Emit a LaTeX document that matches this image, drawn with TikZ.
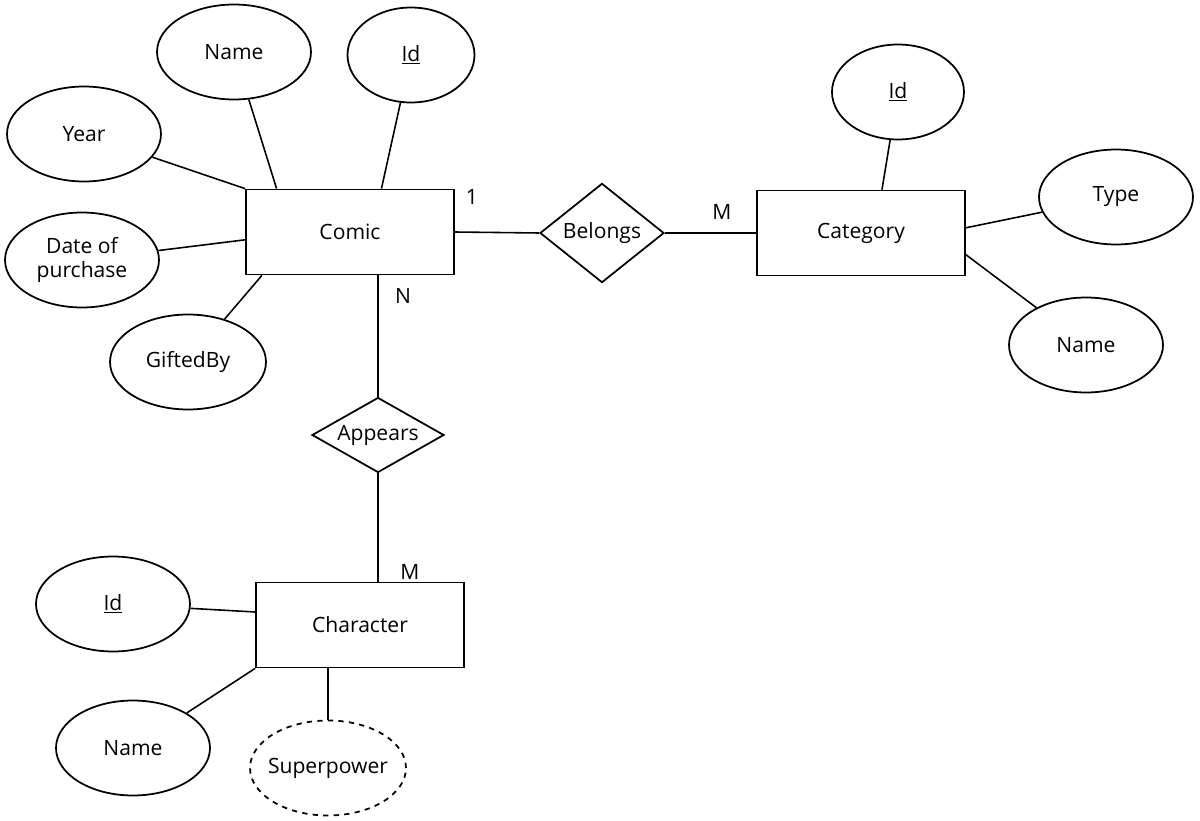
\documentclass[tikz,border=0pt]{standalone}
\usepackage{fontspec}
\setmainfont{Open Sans}
\usetikzlibrary{calc,shapes.geometric}

\begin{document}
\begin{tikzpicture}[
  x=0.02cm,y=-0.02cm,
  font=\fontsize{12}{14}\selectfont,
  entity/.style={draw,line width=1pt,minimum width=4.16cm,minimum height=1.7cm},
  relation/.style={draw,diamond,line width=1pt,inner sep=0pt},
  attr/.style={draw,ellipse,line width=1pt,minimum width=3.08cm,minimum height=1.9cm,align=center},
  link/.style={line width=0.9pt},
  card/.style={inner sep=1pt}
]
\useasboundingbox (0,0) rectangle (1200,821);
% entities and relations
\node[entity] (comic) at (350,232) {Comic};
\node[entity] (category) at (861,233) {Category};
\node[entity] (character) at (360,625) {Character};
\node[relation,minimum width=2.48cm,minimum height=1.98cm] (belongs) at (602,233) {Belongs};
\node[relation,aspect=1.76,minimum width=2.64cm,minimum height=1.5cm] (appears) at (378,435) {Appears};
% attributes of Comic
\node[attr] (name) at (234,52) {Name};
\node[attr,minimum width=2.54cm] (id) at (411,55) {\underline{Id}};
\node[attr] (year) at (84,134) {Year};
\node[attr] (date) at (82,260) {Date of\\purchase};
\node[attr,minimum width=3.12cm] (gifted) at (188,362) {GiftedBy};
% attributes of Category
\node[attr,minimum width=2.64cm] (catid) at (898,92) {\underline{Id}};
\node[attr] (type) at (1116,197) {Type};
\node[attr] (catname) at (1086,345) {Name};
% attributes of Character
\node[attr] (charid) at (113,604) {\underline{Id}};
\node[attr] (charname) at (133,748) {Name};
\node[attr,dashed,inner xsep=-3pt,minimum width=3.12cm] (power) at (328,768) {Superpower};
% cardinalities
\node[card] (c1) at (472,197) {1};
\node[card] (c2) at (722,212) {M};
\node[card] (c3) at (403,296) {N};
\node[card] (c4) at (410,572) {M};

\draw[link] (year) -- (comic.north west);
\draw[link] (name) -- ($(comic.north west)!0.15!(comic.north east)$);
\draw[link] (id) -- ($(comic.north west)!0.65!(comic.north east)$);
\draw[link] (date) -- ($(comic.north west)!0.59!(comic.south west)$);
\draw[link] (gifted) -- ($(comic.south west)!0.08!(comic.south east)$);
\draw[link] (comic.east) -- (belongs.west);
\draw[link] (belongs.east) -- (category.west);
\draw[link] (appears.north |- comic.south) -- (appears.north);
\draw[link] (appears.south) -- (appears.south |- character.north);
\draw[link] (catid) -- ($(category.north west)!0.6!(category.north east)$);
\draw[link] (type) -- ($(category.north east)!0.44!(category.south east)$);
\draw[link] (catname) -- ($(category.north east)!0.75!(category.south east)$);
\draw[link] (charid) -- ($(character.north west)!0.35!(character.south west)$);
\draw[link] (charname) -- (character.south west);
\draw[link] (power.north) -- (power.north |- character.south);
\end{tikzpicture}
\end{document}
